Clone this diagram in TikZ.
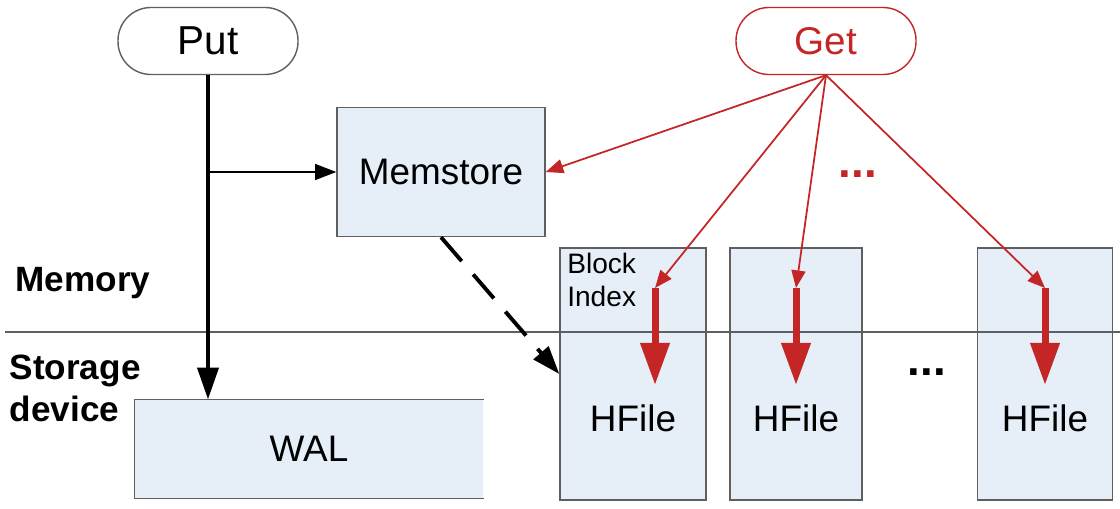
\documentclass[tikz,border=0pt]{standalone}
\usepackage{fontspec}
\setmainfont{Liberation Sans}
\usetikzlibrary{arrows.meta}
\definecolor{boxblue}{RGB}{230,238,248}
\definecolor{getred}{RGB}{196,38,38}
\definecolor{edgegray}{RGB}{95,95,95}

\begin{document}
\begin{tikzpicture}[x=0.1mm,y=-0.1mm,
    op/.style={draw=edgegray,rounded corners=3.3mm,minimum width=18mm,minimum height=6.7mm,font=\fontsize{11}{13}\selectfont},
    store/.style={draw=edgegray,fill=boxblue,font=\fontsize{10.5}{12}\selectfont},
    hfbox/.style={store,minimum height=25.2mm},
    lbl/.style={font=\fontsize{10}{12}\selectfont\bfseries,align=left,anchor=west,inner sep=0pt},
    redthin/.style={getred,line width=0.5pt,-{Triangle[width=4pt,length=5pt]}},
    redthick/.style={getred,line width=2pt,-{Triangle[width=8pt,length=12pt]}}]
    \useasboundingbox (0,0) rectangle (1120,508);

    % operations
    \node (put) [op,font=\fontsize{11.5}{13}\selectfont] at (208,41) {Put};
    \node (get) [op,draw=getred,text=getred] at (826,41) {Get};

    % stores
    \node (mem) [store,minimum width=20.8mm,minimum height=12.9mm] at (441,172) {Memstore};
    \node (wal) [store,draw=none,minimum width=34.8mm,minimum height=9.8mm] at (309,449) {WAL};
    \draw[edgegray] (wal.north east) -- (wal.north west) -- (wal.south west) -- (wal.south east);
    \node (hf1) [hfbox,minimum width=14.6mm] at (633,374) {};
    \node (hf2) [hfbox,minimum width=13.2mm] at (796,374) {};
    \node (hf3) [hfbox,minimum width=13.5mm] at (1045,374) {};
    \node (hf1t) [font=\fontsize{10.5}{12}\selectfont] at ([yshift=-4.4mm]hf1.center) {HFile};
    \node (hf2t) [font=\fontsize{10.5}{12}\selectfont] at ([yshift=-4.4mm]hf2.center) {HFile};
    \node (hf3t) [font=\fontsize{10.5}{12}\selectfont] at ([yshift=-4.4mm]hf3.center) {HFile};
    \node (bidx) [font=\fontsize{8}{9.3}\selectfont,align=left,anchor=north west,inner sep=1.5pt] at ([xshift=0.2mm]hf1.north west) {Block\\Index};

    % memory / storage split
    \coordinate (sepl) at (5,332);
    \coordinate (sepr) at (1120,332);
    \draw[edgegray,line width=0.6pt] (sepl) -- (sepr);
    \node (memlbl) [lbl] at (15,283) {Memory};
    \node (stlbl) [lbl] at (9,388) {Storage\\device};

    % write path
    \coordinate (split) at (208,172);
    \draw[line width=1pt,-{Triangle[width=6pt,length=9pt]}] (put.south) -- (put.south |- wal.north);
    \draw[line width=0.5pt,-{Triangle[width=4.5pt,length=6pt]}] (split) -- (mem.west);
    \draw[line width=1.1pt,dash pattern=on 9pt off 5pt,-{Triangle[width=5.5pt,length=8pt]}] (mem.south) -- (hf1.west);

    % read path
    \coordinate (r1) at (655,288);
    \coordinate (r2) at (796,288);
    \coordinate (r3) at (1045,288);
    \coordinate (d1) at (655,385);
    \coordinate (d2) at (796,385);
    \coordinate (d3) at (1045,385);
    \draw[redthin] (get.south) -- (mem.east);
    \draw[redthin] (get.south) -- (r1);
    \draw[redthin] (get.south) -- (r2);
    \draw[redthin] (get.south) -- (r3);
    \draw[redthick] (r1) -- (d1);
    \draw[redthick] (r2) -- (d2);
    \draw[redthick] (r3) -- (d3);

    \node (dotsr) [getred,font=\fontsize{13}{14}\selectfont\bfseries] at (858,174) {...};
    \node (dotsb) [font=\fontsize{13}{14}\selectfont\bfseries] at (927,372) {...};
\end{tikzpicture}
\end{document}
